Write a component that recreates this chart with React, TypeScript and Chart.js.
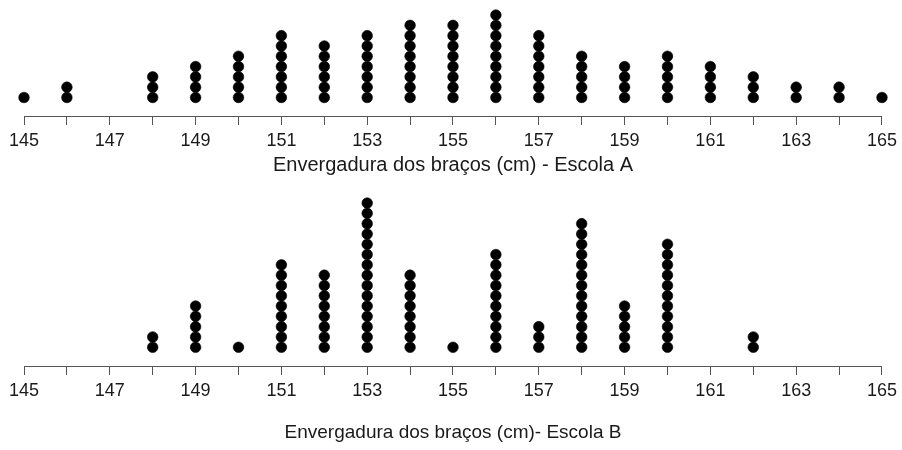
import React, { useEffect, useRef } from "react";
import { Chart, registerables } from "chart.js";

Chart.register(...registerables);

// Arm span values (cm) on the x axis
const spans = [145, 146, 147, 148, 149, 150, 151, 152, 153, 154, 155, 156, 157, 158, 159, 160, 161, 162, 163, 164, 165];
// Number of students per value, Escola A
const countsA = [1, 2, 0, 3, 4, 5, 7, 6, 7, 8, 8, 9, 7, 5, 4, 5, 4, 3, 2, 2, 1];
// Number of students per value, Escola B
const countsB = [0, 0, 0, 2, 5, 1, 9, 8, 15, 8, 1, 10, 3, 13, 5, 11, 0, 2, 0, 0, 0];
// Tick values that carry a label
const labelledTicks = [145, 147, 149, 151, 153, 155, 157, 159, 161, 163, 165];

const titleA = "Envergadura dos braços (cm) - Escola A";
const titleB = "Envergadura dos braços (cm)- Escola B";

const FONT = "'Liberation Sans', Arial, Helvetica, sans-serif";

function stackPoints(counts: number[]) {
  const pts: { x: number; y: number }[] = [];
  spans.forEach((v, i) => {
    for (let k = 1; k <= counts[i]; k++) pts.push({ x: v, y: k });
  });
  return pts;
}

function makeConfig(
  counts: number[],
  title: string,
  titleSize: number,
  axisHeight: number,
  titlePadBottom: number,
  yMin: number,
  yMax: number
): any {
  return {
    type: "scatter",
    data: {
      datasets: [
        {
          data: stackPoints(counts),
          backgroundColor: "#000000",
          borderColor: "#000000",
          borderWidth: 0.6,
          pointRadius: 5.3,
          pointHoverRadius: 5.3,
          showLine: false,
          clip: false,
        },
      ],
    },
    options: {
      animation: false,
      responsive: false,
      events: [],
      layout: { autoPadding: false, padding: { left: 24, right: 19, top: 0, bottom: 0 } },
      plugins: {
        legend: { display: false },
        tooltip: { enabled: false },
        title: { display: false },
      },
      scales: {
        x: {
          type: "linear",
          position: "bottom",
          min: spans[0],
          max: spans[spans.length - 1],
          afterFit: (scale: any) => {
            scale.height = axisHeight;
          },
          border: { display: true, color: "#555555", width: 1 },
          grid: {
            display: true,
            drawOnChartArea: false,
            drawTicks: true,
            tickLength: 9,
            color: "#555555",
            lineWidth: 1,
          },
          ticks: {
            stepSize: 1,
            autoSkip: false,
            maxRotation: 0,
            minRotation: 0,
            padding: 5,
            color: "#1a1a1a",
            font: { family: FONT, size: 18 },
            callback: (value: number) =>
              labelledTicks.includes(value) ? String(value) : "",
          },
          title: {
            display: true,
            text: title,
            color: "#1a1a1a",
            font: { family: FONT, size: titleSize },
            padding: { top: 0, bottom: titlePadBottom },
          },
        },
        y: {
          type: "linear",
          display: false,
          min: yMin,
          max: yMax,
        },
      },
    },
  };
}

function DotPlot(props: {
  counts: number[];
  title: string;
  titleSize: number;
  height: number;
  axisHeight: number;
  titlePadBottom: number;
  yMin: number;
  yMax: number;
}) {
  const ref = useRef<HTMLCanvasElement | null>(null);
  useEffect(() => {
    if (!ref.current) return;
    const chart = new Chart(
      ref.current,
      makeConfig(
        props.counts,
        props.title,
        props.titleSize,
        props.axisHeight,
        props.titlePadBottom,
        props.yMin,
        props.yMax
      )
    );
    return () => chart.destroy();
  }, []);
  return (
    <canvas
      ref={ref}
      width={902}
      height={props.height}
      style={{ display: "block", width: 902, height: props.height }}
    />
  );
}

export default function App() {
  return (
    <div
      style={{
        position: "absolute",
        left: 0,
        top: 0,
        width: 902,
        height: 450,
        background: "#ffffff",
        overflow: "hidden",
      }}
    >
      <DotPlot
        counts={countsA}
        title={titleA}
        titleSize={20}
        height={180}
        axisHeight={64}
        titlePadBottom={3}
        yMin={-0.8}
        yMax={10.46}
      />
      <DotPlot
        counts={countsB}
        title={titleB}
        titleSize={19}
        height={270}
        axisHeight={84}
        titlePadBottom={6}
        yMin={-0.82}
        yMax={17.24}
      />
    </div>
  );
}
